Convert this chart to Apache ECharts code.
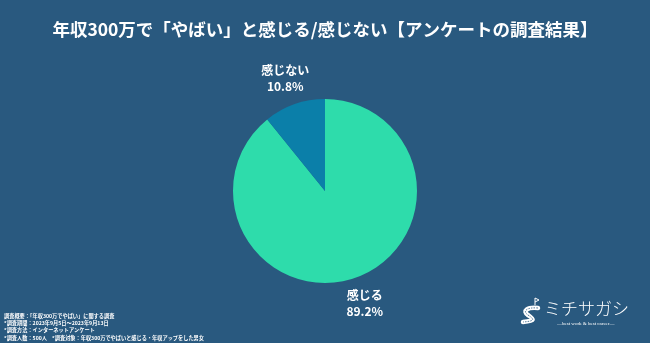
<!DOCTYPE html>
<html>
<head>
<meta charset="utf-8">
<script src="https://cdn.jsdelivr.net/npm/echarts@6/dist/echarts.min.js"></script>
<style>
html,body{margin:0;padding:0;background:#29597f;}
#chart{width:650px;height:343px;}
</style>
</head>
<body>
<div id="chart"></div>
<script>
// Survey answers
const categories = ['感じる', '感じない'];
const shares = [89.2, 10.8];
const sliceColors = ['#2edcab', '#0b7fa9'];

const titleText = '年収300万で「やばい」と感じる/感じない【アンケートの調査結果】';
const noteLines = [
  '調査概要：「年収300万でやばい」に関する調査',
  '*調査期間：2023年9月5日～2023年9月13日',
  '*調査方法：インターネットアンケート',
  '*調査人数：500人　*調査対象：年収300万でやばいと感じる・年収アップをした男女'
];

const font = '"Noto Sans CJK JP", "Noto Sans", sans-serif';
const bg = '#29597f';
const pieData = categories.map((name, i) => ({
  name, value: shares[i], itemStyle: { color: sliceColors[i] }
}));

// road-shaped logo mark, built from two bezier segments
const roadSegments = [
  { x1: 538, y1: 308, cpx1: 527, cpy1: 307, cpx2: 522, cpy2: 311, x2: 528, y2: 315 },
  { x1: 528, y1: 315, cpx1: 534, cpy1: 319, cpx2: 536, cpy2: 321, x2: 523, y2: 322 }
];
const roadMark = [];
roadSegments.forEach(s => roadMark.push({
  type: 'bezierCurve', shape: s,
  style: { stroke: '#ffffff', lineWidth: 4.5, fill: null, lineCap: 'round' }
}));
roadSegments.forEach(s => roadMark.push({
  type: 'bezierCurve', shape: s,
  style: { stroke: bg, lineWidth: 0.8, fill: null, lineDash: [1.5, 1.2] }
}));
roadMark.push({
  type: 'polyline',
  shape: { points: [[535, 305], [535, 298], [539, 300], [535, 302]] },
  style: { stroke: '#ffffff', lineWidth: 1, fill: null }
});

const chart = echarts.init(document.getElementById('chart'));
chart.setOption({
  backgroundColor: bg,
  title: {
    text: titleText,
    left: 'center',
    top: 16,
    textStyle: { color: '#ffffff', fontSize: 17.5, fontWeight: 'bold', fontFamily: font }
  },
  series: [
    {
      type: 'pie',
      center: [325, 191],
      radius: [0, 92],
      startAngle: 90,
      clockwise: true,
      silent: true,
      label: { show: false },
      labelLine: { show: false },
      itemStyle: { borderWidth: 0 },
      data: pieData
    },
    {
      // transparent ring that carries the category/percentage labels
      type: 'pie',
      center: [325, 191],
      radius: [104, 129],
      startAngle: 90,
      clockwise: true,
      silent: true,
      itemStyle: { color: 'rgba(0,0,0,0)' },
      label: {
        show: true,
        position: 'inside',
        color: '#ffffff',
        fontFamily: font,
        fontSize: 12,
        fontWeight: 'bold',
        lineHeight: 16,
        formatter: p => p.name + '\n' + p.value.toFixed(1) + '%'
      },
      labelLine: { show: false },
      data: categories.map((name, i) => ({ name, value: shares[i] }))
    }
  ],
  graphic: [
    {
      type: 'text',
      left: 4,
      top: 312,
      style: {
        text: noteLines.join('\n'),
        fill: '#ffffff',
        font: 'bold 5.2px ' + font,
        lineHeight: 7.4
      }
    },
    {
      type: 'text',
      left: 544,
      top: 300,
      style: { text: 'ミチサガシ', fill: '#ffffff', font: '300 17px ' + font, letterSpacing: 2 }
    },
    {
      type: 'text',
      left: 557,
      top: 321,
      style: { text: '―best work & best career―', fill: '#ffffff', font: '5px "Liberation Serif", serif' }
    }
  ].concat(roadMark)
});
</script>
</body>
</html>
